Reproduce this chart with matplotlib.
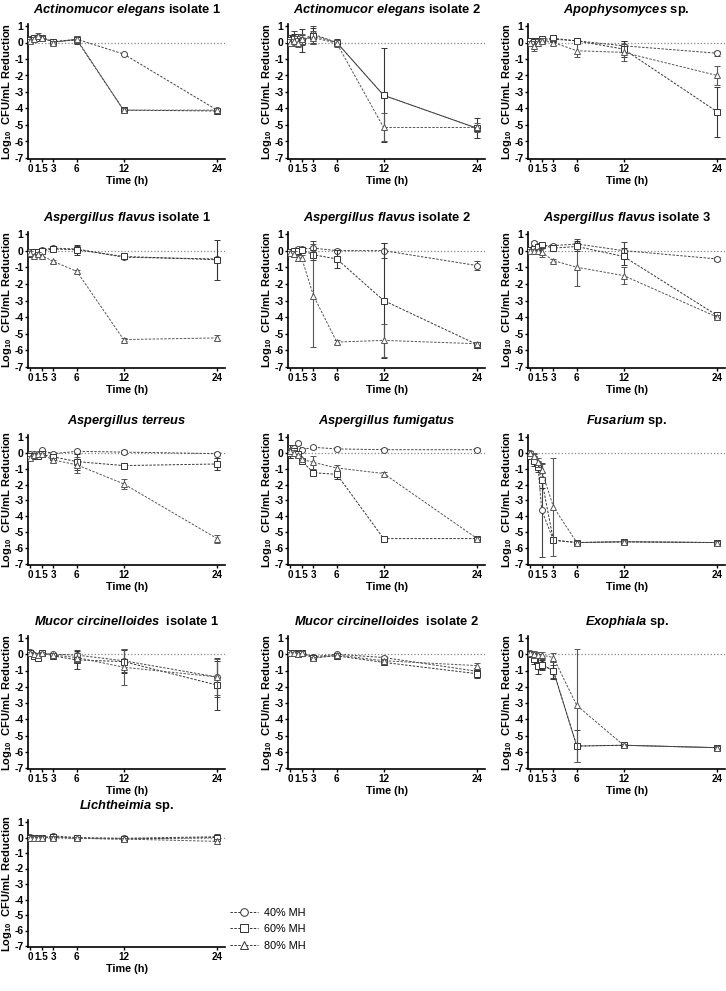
import matplotlib
matplotlib.use("Agg")
import matplotlib.pyplot as plt
from matplotlib.lines import Line2D

plt.rcParams['font.family'] = ['Liberation Sans', 'DejaVu Sans']
plt.rcParams['font.weight'] = 'bold'
plt.rcParams['axes.unicode_minus'] = False
plt.rcParams['mathtext.fontset'] = 'custom'
plt.rcParams['mathtext.rm'] = 'Liberation Sans:bold'
plt.rcParams['mathtext.bf'] = 'Liberation Sans:bold'
plt.rcParams['mathtext.it'] = 'Liberation Sans:italic:bold'
plt.rcParams['mathtext.bfit'] = 'Liberation Sans:italic:bold'

# sampling times (h)
time = [0, 0.5, 1, 1.5, 3, 6, 12, 24]
xticks = [0, 1.5, 3, 6, 12, 24]
xtick_labels = ['0', '1.5', '3', '6', '12', '24']
series_labels = ['40% MH', '60% MH', '80% MH']

# mean log10 reduction, rows = 40%, 60%, 80% MH
ae1_mean = [[0.2, 0.25, 0.35, 0.3, 0.05, 0.2, -0.7, -4.1],
            [0.15, 0.3, 0.3, 0.3, 0.05, 0.15, -4.1, -4.15],
            [0.1, 0.2, 0.4, 0.3, 0.0, 0.2, -4.1, -4.1]]
ae1_err = [[0.05, 0.1, 0.1, 0.1, 0.1, 0.1, 0.05, 0.1],
           [0.1, 0.1, 0.15, 0.1, 0.1, 0.25, 0.1, 0.1],
           [0.1, 0.15, 0.2, 0.1, 0.1, 0.2, 0.1, 0.1]]

ae2_mean = [[0.1, 0.3, 0.2, 0.15, 0.5, 0.0, -3.2, -5.2],
            [0.15, 0.2, 0.1, 0.1, 0.4, 0.0, -3.2, -5.2],
            [0.0, 0.1, 0.0, 0.2, 0.3, -0.05, -5.15, -5.15]]
ae2_err = [[0.2, 0.4, 0.3, 0.3, 0.5, 0.1, 0.1, 0.1],
           [0.3, 0.3, 0.2, 0.7, 0.5, 0.2, 2.85, 0.6],
           [0.2, 0.3, 0.3, 0.3, 0.4, 0.2, 0.85, 0.3]]

apo_mean = [[0.05, 0.0, 0.05, 0.1, 0.2, 0.1, -0.2, -0.65],
            [0.1, 0.05, 0.1, 0.2, 0.25, 0.1, -0.4, -4.2],
            [0.0, -0.2, 0.0, 0.1, 0.0, -0.5, -0.6, -2.0]]
apo_err = [[0.1, 0.1, 0.1, 0.1, 0.15, 0.1, 0.3, 0.15],
           [0.1, 0.2, 0.2, 0.15, 0.2, 0.2, 0.5, 1.5],
           [0.1, 0.3, 0.2, 0.2, 0.15, 0.4, 0.5, 0.6]]

af1_mean = [[-0.1, -0.2, -0.1, 0.05, 0.15, 0.1, -0.4, -0.5],
            [-0.2, -0.1, -0.1, 0.0, 0.1, 0.05, -0.35, -0.55],
            [-0.15, -0.3, -0.2, -0.3, -0.65, -1.25, -5.35, -5.25]]
af1_err = [[0.1, 0.1, 0.1, 0.1, 0.1, 0.15, 0.1, 0.1],
           [0.1, 0.15, 0.1, 0.1, 0.15, 0.3, 0.15, 1.2],
           [0.1, 0.1, 0.1, 0.1, 0.1, 0.1, 0.1, 0.15]]

af2_mean = [[-0.1, 0.0, 0.1, 0.1, 0.15, 0.0, 0.0, -0.9],
            [-0.1, 0.0, 0.0, 0.05, -0.25, -0.5, -3.0, -5.65],
            [-0.15, -0.2, -0.45, -0.45, -2.7, -5.5, -5.4, -5.6]]
af2_err = [[0.1, 0.1, 0.1, 0.1, 0.4, 0.1, 0.45, 0.25],
           [0.1, 0.1, 0.1, 0.1, 0.3, 0.55, 3.45, 0.1],
           [0.1, 0.2, 0.2, 0.2, 3.1, 0.1, 1.0, 0.1]]

af3_mean = [[0.05, 0.45, 0.3, 0.3, 0.3, 0.4, 0.0, -0.5],
            [0.05, 0.1, 0.2, 0.35, 0.15, 0.25, -0.35, -3.9],
            [0.0, 0.0, 0.0, -0.1, -0.6, -1.0, -1.5, -4.0]]
af3_err = [[0.1, 0.1, 0.1, 0.1, 0.1, 0.3, 0.5, 0.1],
           [0.1, 0.1, 0.2, 0.1, 0.15, 0.3, 0.5, 0.2],
           [0.1, 0.1, 0.1, 0.3, 0.1, 1.1, 0.5, 0.15]]

ate_mean = [[-0.1, -0.1, -0.05, 0.15, -0.05, 0.1, 0.05, -0.05],
            [-0.2, -0.2, -0.2, -0.1, -0.25, -0.55, -0.8, -0.7],
            [-0.3, -0.15, -0.1, -0.1, -0.45, -0.75, -1.95, -5.4]]
ate_err = [[0.1, 0.1, 0.1, 0.1, 0.1, 0.1, 0.1, 0.1],
           [0.1, 0.1, 0.1, 0.1, 0.1, 0.5, 0.1, 0.4],
           [0.1, 0.1, 0.1, 0.1, 0.1, 0.5, 0.3, 0.25]]

afu_mean = [[0.1, 0.3, 0.6, 0.2, 0.35, 0.25, 0.2, 0.2],
            [0.0, 0.1, -0.1, -0.5, -1.25, -1.35, -5.4, -5.4],
            [0.1, 0.0, -0.15, -0.4, -0.6, -0.95, -1.3, -5.4]]
afu_err = [[0.4, 0.2, 0.1, 0.1, 0.1, 0.1, 0.1, 0.1],
           [0.3, 0.2, 0.1, 0.1, 0.15, 0.3, 0.1, 0.1],
           [0.2, 0.2, 0.1, 0.1, 0.4, 0.2, 0.1, 0.1]]

fus_mean = [[0.0, -0.3, -0.7, -3.6, -5.5, -5.65, -5.6, -5.65],
            [-0.2, -0.5, -0.9, -1.7, -5.5, -5.65, -5.6, -5.65],
            [0.0, -0.2, -0.6, -1.1, -3.4, -5.65, -5.6, -5.65]]
fus_err = [[0.1, 0.2, 0.2, 2.95, 0.1, 0.1, 0.1, 0.1],
           [0.1, 0.3, 0.3, 0.5, 0.1, 0.1, 0.1, 0.1],
           [0.1, 0.2, 0.3, 0.4, 3.1, 0.1, 0.1, 0.1]]

mc1_mean = [[0.15, -0.05, -0.1, 0.05, 0.0, -0.05, -0.4, -1.4],
            [0.1, -0.1, -0.2, 0.1, -0.1, -0.35, -0.45, -1.9],
            [0.05, 0.0, -0.05, 0.05, -0.05, -0.2, -0.8, -1.4]]
mc1_err = [[0.1, 0.1, 0.1, 0.1, 0.1, 0.3, 0.7, 1.2],
           [0.1, 0.1, 0.1, 0.1, 0.1, 0.55, 0.7, 1.5],
           [0.1, 0.1, 0.1, 0.1, 0.1, 0.3, 1.1, 1.1]]

mc2_mean = [[0.1, 0.1, 0.05, 0.1, -0.15, 0.0, -0.2, -1.05],
            [0.1, 0.05, 0.0, 0.05, -0.2, -0.1, -0.5, -1.2],
            [0.05, 0.05, 0.0, 0.1, -0.25, -0.05, -0.4, -0.7]]
mc2_err = [[0.1, 0.1, 0.1, 0.1, 0.1, 0.1, 0.1, 0.2],
           [0.1, 0.1, 0.1, 0.1, 0.1, 0.1, 0.1, 0.25],
           [0.1, 0.1, 0.1, 0.1, 0.1, 0.1, 0.1, 0.15]]

exo_mean = [[0.1, -0.1, -0.4, -0.6, -1.05, -5.65, -5.6, -5.75],
            [0.0, -0.3, -0.7, -0.65, -1.0, -5.65, -5.6, -5.75],
            [0.05, 0.0, -0.05, -0.05, -0.2, -3.15, -5.6, -5.75]]
exo_err = [[0.1, 0.2, 0.4, 0.3, 0.4, 0.1, 0.1, 0.1],
           [0.1, 0.3, 0.5, 0.3, 0.5, 1.0, 0.1, 0.1],
           [0.1, 0.2, 0.2, 0.2, 0.3, 3.5, 0.1, 0.1]]

lic_mean = [[0.05, 0.0, -0.05, 0.0, 0.1, 0.0, -0.05, 0.05],
            [0.0, -0.05, 0.0, -0.05, 0.05, -0.05, -0.1, 0.0],
            [-0.05, 0.0, -0.05, 0.0, 0.0, -0.05, -0.1, -0.25]]
lic_err = [[0.1, 0.1, 0.1, 0.1, 0.1, 0.1, 0.1, 0.15],
           [0.1, 0.1, 0.1, 0.1, 0.1, 0.1, 0.1, 0.15],
           [0.1, 0.1, 0.1, 0.1, 0.1, 0.1, 0.1, 0.15]]

titles = [(r'Actinomucor\ elegans', ' isolate 1'),
          (r'Actinomucor\ elegans', ' isolate 2'),
          (r'Apophysomyces', ' sp.'),
          (r'Aspergillus\ flavus', ' isolate 1'),
          (r'Aspergillus\ flavus', ' isolate 2'),
          (r'Aspergillus\ flavus', ' isolate 3'),
          (r'Aspergillus\ terreus', ''),
          (r'Aspergillus\ fumigatus', ''),
          (r'Fusarium', ' sp.'),
          (r'Mucor\ circinelloides', '  isolate 1'),
          (r'Mucor\ circinelloides', '  isolate 2'),
          (r'Exophiala', ' sp.'),
          (r'Lichtheimia', ' sp.')]
means = [ae1_mean, ae2_mean, apo_mean, af1_mean, af2_mean, af3_mean,
         ate_mean, afu_mean, fus_mean, mc1_mean, mc2_mean, exo_mean, lic_mean]
errs = [ae1_err, ae2_err, apo_err, af1_err, af2_err, af3_err,
        ate_err, afu_err, fus_err, mc1_err, mc2_err, exo_err, lic_err]

W, H = 726, 991
fig = plt.figure(figsize=(W / 100, H / 100), dpi=100)

col_x0 = [30, 290, 530]          # pixel of x = 0
px_per_h = 7.8
row_top = [26, 234, 437, 638, 822]     # pixel of y = 1
row_bot = [158, 367, 564, 768, 946]    # pixel of y = -7
xmin, xmax = -0.2, 25.0
ymin, ymax = -7.05, 1.12

markers = ['o', 's', '^']
colors = ['#444444', '#333333', '#555555']

for i in range(13):
    r, c = divmod(i, 3)
    ppu = (row_bot[r] - row_top[r]) / 8.0
    left = col_x0[c] + xmin * px_per_h
    right = col_x0[c] + xmax * px_per_h
    top = row_top[r] - (ymax - 1) * ppu
    bot = row_bot[r] - (ymin + 7) * ppu
    ax = fig.add_axes([left / W, 1 - bot / H, (right - left) / W, (bot - top) / H])

    ax.axhline(0, color='#888888', linestyle=':', linewidth=0.9, zorder=1)
    for k in range(3):
        ax.errorbar(time, means[i][k], yerr=errs[i][k], color=colors[k],
                    linestyle='--', dashes=(2.5, 1.5), linewidth=0.7,
                    marker=markers[k], markersize=4.3, markerfacecolor='white',
                    markeredgecolor=colors[k], markeredgewidth=0.7,
                    elinewidth=0.8, capsize=2, capthick=0.8, zorder=3 + k)

    ax.set_xlim(xmin, xmax)
    ax.set_ylim(ymin, ymax)
    ax.set_xticks(xticks)
    ax.set_xticklabels(xtick_labels)
    ax.set_yticks(range(-7, 2))
    ax.spines['top'].set_visible(False)
    ax.spines['right'].set_visible(False)
    ax.spines['left'].set_linewidth(1.2)
    ax.spines['bottom'].set_linewidth(1.2)
    ax.tick_params(labelsize=7.5, width=1.0, length=2.5, pad=1)
    ax.tick_params(axis='x', labelsize=7.1)
    ax.set_xlabel('Time (h)', fontsize=7.8, fontweight='bold', labelpad=2)
    ax.set_ylabel(r'Log$_{\mathbf{10}}$  CFU/mL Reduction', fontsize=8,
                  fontweight='bold', labelpad=0.5)

    sp, rest = titles[i]
    ax.set_title(r'$\mathbfit{' + sp + '}$' + rest, fontsize=9.3,
                 fontweight='bold', pad=8)

handles = [Line2D([], [], color='#333333', linestyle='--', dashes=(2.5, 1.5),
                  linewidth=0.7, marker=m, markersize=5.5,
                  markerfacecolor='white', markeredgewidth=0.7)
           for m in markers]
fig.legend(handles, series_labels, loc='upper left',
           bbox_to_anchor=(220 / W, 1 - 898 / H), frameon=False,
           prop={'size': 7.8, 'weight': 'normal'},
           handlelength=2.6, labelspacing=0.6, handletextpad=0.6)

fig.savefig('out.png', dpi=100)
